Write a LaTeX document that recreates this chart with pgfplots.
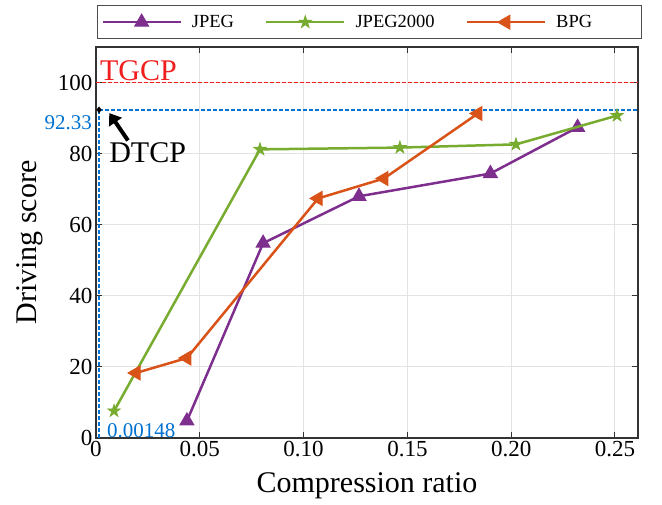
\documentclass[border=0pt]{standalone}
\usepackage{pgfplots}
\pgfplotsset{compat=1.18}
\usepackage{fontspec}
\setmainfont{Liberation Serif}
\usetikzlibrary{arrows.meta}

\definecolor{cjpeg}{RGB}{126,47,142}
\definecolor{cjtk}{RGB}{119,172,48}
\definecolor{cbpg}{RGB}{217,83,25}
\definecolor{dtcpblue}{RGB}{0,114,210}
\definecolor{tgcpred}{RGB}{240,30,30}

% filled five-point star
\pgfdeclareplotmark{fstar}{%
  \pgfpathmoveto{\pgfpointpolar{90}{\pgfplotmarksize}}%
  \pgfpathlineto{\pgfpointpolar{126}{0.382\pgfplotmarksize}}%
  \pgfpathlineto{\pgfpointpolar{162}{\pgfplotmarksize}}%
  \pgfpathlineto{\pgfpointpolar{198}{0.382\pgfplotmarksize}}%
  \pgfpathlineto{\pgfpointpolar{234}{\pgfplotmarksize}}%
  \pgfpathlineto{\pgfpointpolar{270}{0.382\pgfplotmarksize}}%
  \pgfpathlineto{\pgfpointpolar{306}{\pgfplotmarksize}}%
  \pgfpathlineto{\pgfpointpolar{342}{0.382\pgfplotmarksize}}%
  \pgfpathlineto{\pgfpointpolar{18}{\pgfplotmarksize}}%
  \pgfpathlineto{\pgfpointpolar{54}{0.382\pgfplotmarksize}}%
  \pgfpathclose
  \pgfusepathqfillstroke}

\begin{document}
\begin{tikzpicture}
\useasboundingbox (-96pt,-67pt) rectangle (566pt,438pt);
\begin{axis}[
    scale only axis,
    width=542pt, height=391pt,
    xmin=0, xmax=0.2611,
    ymin=0, ymax=110,
    clip mode=individual,
    xtick={0,0.05,0.10,0.15,0.20,0.25},
    xticklabels={0,0.05,0.10,0.15,0.20,0.25},
    ytick={0,20,40,60,80,100},
    /pgf/number format/assume math mode=true,
    ticklabel style={font=\fontsize{23}{26}\selectfont},
    label style={font=\fontsize{30}{34}\selectfont},
    xlabel={Compression ratio},
    ylabel={Driving score},
    xlabel style={at={(axis description cs:0.5,-0.123)}, anchor=center},
    ylabel style={at={(axis description cs:-0.123,0.5)}, anchor=center},
    tick align=inside,
    major tick length=6pt,
    tick style={black!80, line width=1pt},
    axis line style={black!80, line width=1.5pt},
    grid=major,
    major grid style={black!11, line width=1pt},
    legend columns=3,
    legend style={at={(axis description cs:0,1)}, anchor=south west, xshift=1pt, yshift=8pt,
        draw=black!70, line width=0.8pt, fill=white,
        font=\fontsize{18.5}{22}\selectfont,
        inner xsep=4pt, inner ysep=7.5pt,
        /tikz/every odd column/.append style={column sep=8pt},
        /tikz/every even column/.append style={column sep=29pt}},
    legend image code/.code={\draw[mark repeat=2,mark phase=2] plot coordinates {(0pt,0pt) (39pt,0pt) (78pt,0pt)};},
]
% reference lines
\addplot[draw=tgcpred, dash pattern=on 4pt off 2pt, line width=1.4pt, forget plot] coordinates {(0,100) (0.2611,100)};
\addplot[draw=dtcpblue, dash pattern=on 4pt off 2pt, line width=1.4pt, forget plot] coordinates {(0.00148,0) (0.00148,92.33)};
\addplot[draw=dtcpblue, dash pattern=on 4pt off 2pt, line width=1.4pt, forget plot] coordinates {(0.00148,92.33) (0.2611,92.33)};

\addplot[cjpeg, line width=2.5pt, mark=triangle*, mark size=8pt, mark options={line width=1pt}] coordinates {
  (0.0438,4.8) (0.0805,54.8) (0.1267,68.0) (0.190,74.4) (0.232,87.4)
};
\addlegendentry{JPEG}
\addplot[cjtk, line width=2.5pt, mark=fstar, mark size=6.5pt, mark options={line width=0.8pt}] coordinates {
  (0.0087,7.6) (0.079,81.2) (0.1464,81.7) (0.2023,82.6) (0.251,90.7)
};
\addlegendentry{JPEG2000}
\addplot[cbpg, line width=2.5pt, mark=triangle*, mark size=8pt, mark options={rotate=90, line width=1pt}] coordinates {
  (0.0193,18.3) (0.0438,22.5) (0.107,67.4) (0.1387,73.0) (0.184,91.3)
};
\addlegendentry{BPG\hspace*{43pt}\null}

\addplot[black, only marks, mark=diamond*, mark size=3pt, forget plot] coordinates {(0.00148,92.33)};

\draw[black, line width=4pt, -{Triangle[length=11pt,width=15pt]}] (axis cs:0.0154,83.7) -- (axis cs:0.0064,91.4);
\node[anchor=west, inner sep=0pt, font=\fontsize{30}{34}\selectfont] at (axis cs:0.0063,80.3) {DTCP};
\node[anchor=west, inner sep=0pt, text=tgcpred, font=\fontsize{30}{34}\selectfont] at (axis cs:0.0019,103.4) {TGCP};
\node[anchor=east, inner sep=0pt, xshift=-4pt, text=dtcpblue, font=\fontsize{21}{24}\selectfont] at (axis cs:0,88.8) {92.33};
\node[anchor=west, inner sep=0pt, text=dtcpblue, font=\fontsize{21}{24}\selectfont] at (axis cs:0.0053,2.2) {0.00148};
\end{axis}
\end{tikzpicture}
\end{document}
